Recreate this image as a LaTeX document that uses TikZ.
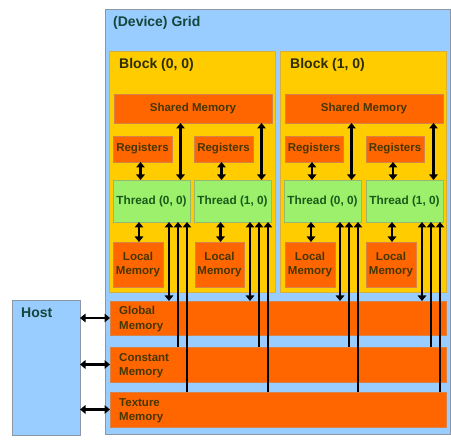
\documentclass[tikz,border=0pt]{standalone}
\usepackage{fontspec}
\setmainfont{Liberation Sans}
\usetikzlibrary{arrows.meta,calc}
\definecolor{gridblue}{RGB}{153,204,255}
\definecolor{blockyel}{RGB}{255,204,0}
\definecolor{memorange}{RGB}{255,102,0}
\definecolor{thrgreen}{RGB}{156,240,108}
\definecolor{titleteal}{RGB}{20,70,60}
\definecolor{blocktxt}{RGB}{45,45,0}
\definecolor{thrtxt}{RGB}{25,90,25}
\definecolor{memtxt}{RGB}{70,55,0}
\definecolor{bordgray}{RGB}{140,150,165}
\definecolor{bordyel}{RGB}{215,175,60}
\definecolor{bordor}{RGB}{215,130,70}
\definecolor{bordgr}{RGB}{150,185,110}
\tikzset{
  box/.style={rectangle, anchor=north west, inner sep=0pt, outer sep=0pt, line width=0.8pt},
  gridbox/.style={box, fill=gridblue, draw=bordgray},
  blockbox/.style={box, fill=blockyel, draw=bordyel},
  membox/.style={box, fill=memorange, draw=bordor, text=memtxt, font=\fontsize{11.5}{14}\selectfont\bfseries, align=center},
  thrbox/.style={box, fill=thrgreen, draw=bordgr, text=thrtxt, font=\fontsize{11.8}{14}\selectfont\bfseries},
  bigtitle/.style={anchor=west, inner sep=0pt, font=\fontsize{14}{16}\selectfont\bfseries},
  memlbl/.style={anchor=west, inner sep=0pt, align=left, text=memtxt, font=\fontsize{11.5}{14.5}\selectfont\bfseries},
  tip/.style={line width=2.3pt, draw=black},
  dbl/.style={tip, {Triangle[width=8.5pt,length=5.5pt]}-{Triangle[width=8.5pt,length=5.5pt]}},
  upa/.style={tip, -{Triangle[width=8.5pt,length=5.5pt]}}
}
\begin{document}
\begin{tikzpicture}[x=1pt,y=-1pt]
\useasboundingbox (0,0) rectangle (451,446);
\fill[white] (0,0) rectangle (451,446);
% grid and host
\node[gridbox, minimum width=345pt, minimum height=425pt] (grid) at (105,9) {};
\node[gridbox, minimum width=68pt, minimum height=135pt] (host) at (12,300) {};
\node[bigtitle, text=titleteal] (gridlbl) at ([xshift=8pt,yshift=-14pt]grid.north west) {(Device) Grid};
\node[bigtitle, text=titleteal] (hostlbl) at ([xshift=9pt,yshift=-13pt]host.north west) {Host};
% blocks
\node[blockbox, minimum width=166pt, minimum height=241pt] (blkA) at (109,51) {};
\node[blockbox, minimum width=166pt, minimum height=241pt] (blkB) at (280,51) {};
\node[bigtitle, text=blocktxt] (blkAlbl) at ([xshift=10pt,yshift=-14pt]blkA.north west) {Block (0, 0)};
\node[bigtitle, text=blocktxt] (blkBlbl) at ([xshift=10pt,yshift=-14pt]blkB.north west) {Block (1, 0)};
% shared memory
\node[membox, minimum width=158pt, minimum height=29pt] (shA) at (114,94) {Shared Memory};
\node[membox, minimum width=158pt, minimum height=29pt] (shB) at (285,94) {Shared Memory};
% registers
\node[membox, minimum width=59pt, minimum height=26pt] (rA0) at (113,136) {Registers};
\node[membox, minimum width=59pt, minimum height=26pt] (rA1) at (194,136) {Registers};
\node[membox, minimum width=58pt, minimum height=26pt] (rB0) at (285,136) {Registers};
\node[membox, minimum width=58pt, minimum height=26pt] (rB1) at (366,136) {Registers};
% threads
\node[thrbox, minimum width=77pt, minimum height=42pt] (tA0) at (113,180) {Thread (0, 0)};
\node[thrbox, minimum width=77pt, minimum height=42pt] (tA1) at (194,180) {Thread (1, 0)};
\node[thrbox, minimum width=77pt, minimum height=42pt] (tB0) at (284,180) {Thread (0, 0)};
\node[thrbox, minimum width=77pt, minimum height=42pt] (tB1) at (366,180) {Thread (1, 0)};
% local memory
\node[membox, minimum width=50pt, minimum height=45pt] (lA0) at (113,242) {Local\\Memory};
\node[membox, minimum width=49pt, minimum height=45pt] (lA1) at (195,242) {Local\\Memory};
\node[membox, minimum width=50pt, minimum height=45pt] (lB0) at (285,242) {Local\\Memory};
\node[membox, minimum width=50pt, minimum height=45pt] (lB1) at (366,242) {Local\\Memory};
% global, constant, texture
\node[membox, minimum width=336pt, minimum height=34pt] (glob) at (110,301) {};
\node[membox, minimum width=336pt, minimum height=35pt] (cons) at (110,347) {};
\node[membox, minimum width=336pt, minimum height=35pt] (tex) at (110,392) {};
\node[memlbl] (globlbl) at ([xshift=9pt,yshift=-1pt]glob.west) {Global\\Memory};
\node[memlbl] (conslbl) at ([xshift=9pt,yshift=-1pt]cons.west) {Constant\\Memory};
\node[memlbl] (texlbl) at ([xshift=9pt,yshift=-1pt]tex.west) {Texture\\Memory};
% per-thread connectors
\foreach \t/\r/\l/\s in {tA0/rA0/lA0/shA, tA1/rA1/lA1/shA, tB0/rB0/lB0/shB, tB1/rB1/lB1/shB}{
  \draw[dbl] ([xshift=-2pt]\r.south) -- ([xshift=-2pt]\r.south |- \t.north);
  \draw[dbl] ([xshift=1pt]\l.north) -- ([xshift=1pt]\l.north |- \t.south);
  \draw[dbl] ([xshift=-9.5pt]\t.north east |- \s.south) -- ([xshift=-9.5pt]\t.north east);
  \draw[dbl] ([xshift=-21pt]\t.south east) -- ([xshift=-21pt]\t.south east |- glob.north);
  \draw[upa] ([xshift=-12pt]\t.south east |- cons.north) -- ([xshift=-12pt]\t.south east);
  \draw[upa] ([xshift=-3pt]\t.south east |- tex.north) -- ([xshift=-3pt]\t.south east);
}
% host connectors
\draw[dbl] (glob.west -| host.east) -- (glob.west);
\draw[dbl] (cons.west -| host.east) -- (cons.west);
\draw[dbl] (tex.west -| host.east) -- (tex.west);
\end{tikzpicture}
\end{document}
